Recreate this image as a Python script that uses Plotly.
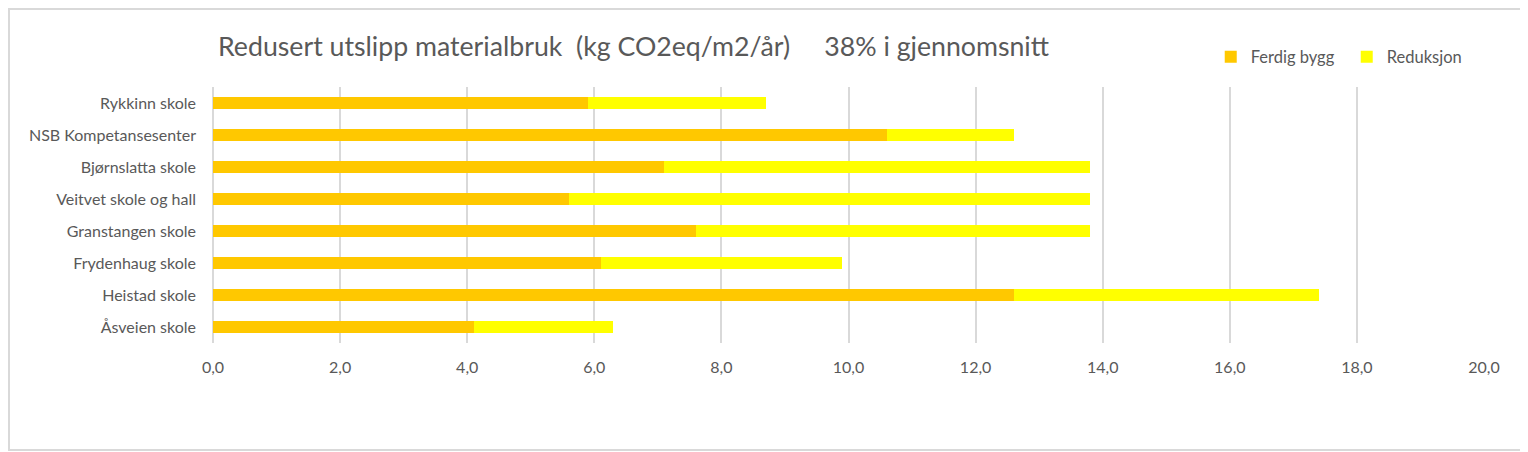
import plotly.graph_objects as go

skoler = ['Åsveien skole', 'Heistad skole', 'Frydenhaug skole', 'Granstangen skole',
          'Veitvet skole og hall', 'Bjørnslatta skole', 'NSB Kompetansesenter', 'Rykkinn skole']
ferdig_bygg = [4.1, 12.6, 6.1, 7.6, 5.6, 7.1, 10.6, 5.9]
reduksjon = [2.2, 4.8, 3.8, 6.2, 8.2, 6.7, 2.0, 2.8]

tittel = 'Redusert utslipp materialbruk\u00a0\u00a0(kg CO2eq/m2/år)\u00a0\u00a0\u00a0\u00a0\u00a038% i gjennomsnitt'

grey = '#595959'
font_family = 'Lato, Open Sans, sans-serif'

# the page has an 8px body margin, so the figure is a little smaller than the window
W, H = 1520, 444
L, R, T, B = 205, 44, 79, 109
pw, ph = W - L - R, H - T - B

fig = go.Figure()
fig.add_trace(go.Bar(name='Ferdig bygg', y=skoler, x=ferdig_bygg, orientation='h',
                     marker=dict(color='#FFC800', line=dict(width=0))))
fig.add_trace(go.Bar(name='Reduksjon', y=skoler, x=reduksjon, orientation='h',
                     marker=dict(color='#FFFF00', line=dict(width=0))))

fig.update_layout(
    width=W, height=H,
    barmode='stack', bargap=0.6,
    separators=', ',
    paper_bgcolor='white', plot_bgcolor='white',
    margin=dict(l=L, r=R, t=T, b=B),
    font=dict(family=font_family, size=16, color=grey),
    title=dict(text=tittel, x=210 / W, xanchor='left', xref='container',
               y=1 - 39 / H, yanchor='middle', yref='container',
               font=dict(size=26.7, color=grey)),
    legend=dict(orientation='h', x=0.785, xanchor='left', y=1.117, yanchor='middle',
                font=dict(size=16.5, color=grey), traceorder='normal',
                itemwidth=30, entrywidth=91, bgcolor='rgba(0,0,0,0)'),
    xaxis=dict(range=[0, 20], dtick=2, tickformat='.1f', showgrid=True,
               gridcolor='#d9d9d9', gridwidth=1.5, zeroline=True,
               zerolinecolor='#d9d9d9', zerolinewidth=1.5, showline=False,
               ticks='', ticklabelstandoff=13, tickfont=dict(size=16, color=grey)),
    yaxis=dict(showgrid=False, zeroline=False, showline=False, ticks='',
               ticklabelstandoff=16, tickfont=dict(size=16, color=grey)),
    shapes=[dict(type='rect', xref='paper', yref='paper',
                 x0=(1 - L) / pw, x1=(W - 2 - L) / pw,
                 y0=(ph + T - (H - 2)) / ph, y1=(ph + T - 1) / ph,
                 line=dict(color='#d9d9d9', width=2), layer='below')],
)

fig.write_html('out.html')
